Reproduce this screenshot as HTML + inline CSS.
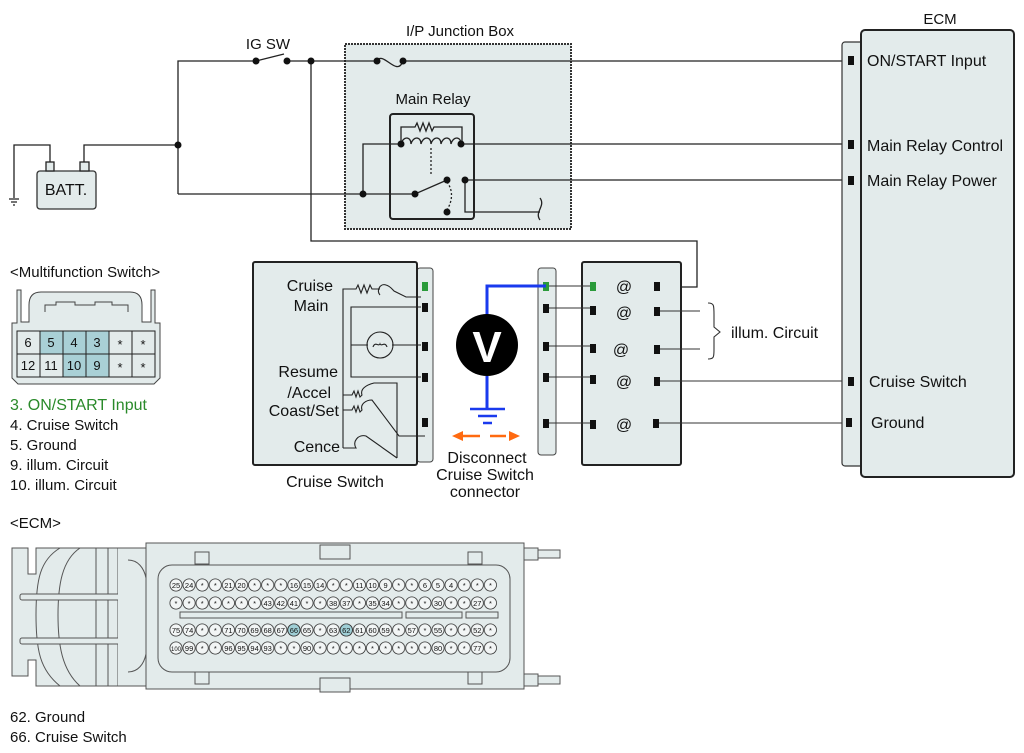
<!DOCTYPE html>
<html><head><meta charset="utf-8"><style>
html,body{margin:0;padding:0;background:#fff;}
svg{display:block;font-family:"Liberation Sans",Arial,sans-serif;}
</style></head><body>
<svg width="1024" height="753" viewBox="0 0 1024 753" xmlns="http://www.w3.org/2000/svg">
<defs>
<pattern id="p1" patternUnits="userSpaceOnUse" x="169.45" y="576" width="13.1" height="18"><circle cx="6.55" cy="9" r="6.1" fill="#f2f5f5" stroke="#333" stroke-width="0.8"/></pattern>
<pattern id="p2" patternUnits="userSpaceOnUse" x="169.45" y="621" width="13.1" height="18"><circle cx="6.55" cy="9" r="6.1" fill="#f2f5f5" stroke="#333" stroke-width="0.8"/></pattern>
</defs>
<!-- junction box -->
<rect x="345" y="44" width="226" height="185" fill="#e3ebeb" stroke="#333" stroke-dasharray="2 1" stroke-width="2"/>
<g fill="none" stroke="#222" stroke-width="1.3">
<!-- battery -->
<rect x="37" y="171" width="59" height="38" rx="3" fill="#e3ebeb" stroke="#333"/>
<rect x="46" y="162" width="8" height="9" fill="#e3ebeb"/>
<rect x="80" y="162" width="9" height="9" fill="#e3ebeb"/>
<path d="M50 162V145H14V198M84 162V145H178"/>
<path d="M9 199h10M11 202h6M13 205h2"/>
<path d="M178 194V61H256M287 61H377M403 61H842"/>
<path d="M256 61L284 54"/>
<path d="M311 61V241H697V287H657"/>
<path d="M377 61C383 50 397 78 403 61"/>
<rect x="390" y="114" width="84" height="105" rx="3" stroke-width="2"/>
<path d="M401 144V127H415l2-4 3 8 3-8 3 8 3-8 3 8 2-4H462V144"/>
<path d="M401 144c2-8 10-8 10 0c2-8 10-8 10 0c2-8 10-8 10 0c2-8 10-8 10 0c2-8 10-8 10 0c2-8 10-8 10 0"/>
<path d="M461 144H842M401 144H363V194"/>
<path d="M178 194H415L447 180"/>
<path d="M465 180H842M465 180V212H540"/>
<path d="M540 198c6 8 -6 14 0 22"/>
<path d="M431 148V176M447 182c6 8 6 18 0 28" stroke-dasharray="2 2"/>
</g>
<g fill="#111">
<circle cx="178" cy="145" r="3.5"/><circle cx="256" cy="61" r="3.5"/><circle cx="287" cy="61" r="3.5"/><circle cx="311" cy="61" r="3.5"/>
<circle cx="377" cy="61" r="3.5"/><circle cx="403" cy="61" r="3.5"/>
<circle cx="401" cy="144" r="3.5"/><circle cx="461" cy="144" r="3.5"/><circle cx="363" cy="194" r="3.5"/>
<circle cx="415" cy="194" r="3.5"/><circle cx="447" cy="180" r="3.5"/><circle cx="465" cy="180" r="3.5"/><circle cx="447" cy="212" r="3.5"/>
</g>
<!-- ECM -->
<rect x="842" y="42" width="22" height="424" rx="3" fill="#e3ebeb" stroke="#333" stroke-width="1.2"/>
<rect x="861" y="30" width="153" height="447" rx="4" fill="#e3ebeb" stroke="#222" stroke-width="2"/>
<g fill="#111"><rect x="848" y="56" width="6" height="9"/><rect x="848" y="140" width="6" height="9"/><rect x="848" y="176" width="6" height="9"/><rect x="848" y="377" width="6" height="9"/><rect x="846" y="418" width="6" height="9"/></g>
<!-- cruise switch -->
<rect x="417" y="268" width="16" height="194" rx="3" fill="#e3ebeb" stroke="#444"/>
<rect x="253" y="262" width="164" height="203" rx="2" fill="#e3ebeb" stroke="#222" stroke-width="2"/>
<g fill="#111"><rect x="422" y="282" width="6" height="9" fill="#2a9a3a"/><rect x="422" y="303" width="6" height="9"/><rect x="422" y="342" width="6" height="9"/><rect x="422" y="373" width="6" height="9"/><rect x="422" y="418" width="6" height="9"/></g>
<g fill="none" stroke="#222" stroke-width="1.1">
<path d="M343 448V289H356l2-4 3 8 3-8 3 8 3-8 2 4H380"/>
<path d="M380 295c-4-4 0-12 6-10c4 1 6 4 8 6l12 6H421"/>
<path d="M421 307H351V377H421M351 345H368M392 345H421"/>
<circle cx="380" cy="345" r="13"/><path d="M373 347c2-6 6 0 7-3c1 3 5-3 7 3"/>
<path d="M343 395H352l2-4 2 6 2-6 2 6 2-2c-2-6 4-10 12-12H397V458M343 410H352l2-4 2 6 2-6 2 6 2-2c-2-6 4-10 10-10l27 36H425"/>
<path d="M343 448H356c-4-6 2-14 10-12l31 22"/>
</g>
<!-- middle connector -->
<rect x="538" y="268" width="18" height="187" rx="3" fill="#e3ebeb" stroke="#444"/>
<rect x="582" y="262" width="99" height="203" rx="2" fill="#e3ebeb" stroke="#222" stroke-width="2"/>
<g stroke="#333" stroke-width="1.1" fill="none">
<path d="M546 286H593M546 308H593M546 346H593M546 377H593M546 423H593"/>
<path d="M657 311H700M657 349H700M657 381H842M657 423H842"/>
<path d="M708 303c6 0 6 2 6 12v12l6 5-6 5v12c0 8 0 10-6 10"/>
</g>
<g fill="#111">
<rect x="543" y="282" width="6" height="9" fill="#2a9a3a"/><rect x="543" y="304" width="6" height="9"/><rect x="543" y="342" width="6" height="9"/><rect x="543" y="373" width="6" height="9"/><rect x="543" y="419" width="6" height="9"/>
<rect x="590" y="282" width="6" height="9" fill="#2a9a3a"/><rect x="590" y="306" width="6" height="9"/><rect x="590" y="344" width="6" height="9"/><rect x="590" y="375" width="6" height="9"/><rect x="590" y="420" width="6" height="9"/>
<rect x="654" y="282" width="6" height="9"/><rect x="654" y="307" width="6" height="9"/><rect x="654" y="345" width="6" height="9"/><rect x="654" y="377" width="6" height="9"/><rect x="653" y="419" width="6" height="9"/>
</g>
<g font-size="16" fill="#111" text-anchor="middle">
<text x="624" y="292">@</text><text x="624" y="318">@</text><text x="621" y="355">@</text><text x="624" y="387">@</text><text x="624" y="430">@</text>
</g>
<!-- voltmeter -->
<path d="M546 286H487V330M487 376V409" stroke="#1a3aee" stroke-width="3" fill="none"/>
<path d="M470 409H505M478 416H497M483 423H492" stroke="#1a3aee" stroke-width="2.5"/>
<circle cx="487" cy="345" r="31" fill="#000"/>
<text x="487" y="362" font-size="44" font-weight="bold" fill="#fff" text-anchor="middle">V</text>
<g fill="#ff6a10" stroke="#ff6a10" stroke-width="2.5"><path d="M462 436H480M506 436H490"/><path d="M452 436l11-5v10z" stroke="none"/><path d="M520 436l-11-5v10z" stroke="none"/></g>
<!-- texts -->
<g font-size="15" fill="#111">
<text x="268" y="49" text-anchor="middle">IG SW</text>
<text x="460" y="36" text-anchor="middle">I/P Junction Box</text>
<text x="433" y="104" text-anchor="middle">Main Relay</text>
<text x="66" y="195" text-anchor="middle" font-size="16">BATT.</text>
<text x="940" y="24" text-anchor="middle">ECM</text>
<text x="867" y="66" font-size="16">ON/START Input</text>
<text x="867" y="151" font-size="16">Main Relay Control</text>
<text x="867" y="186" font-size="16">Main Relay Power</text>
<text x="869" y="387" font-size="16">Cruise Switch</text>
<text x="871" y="428" font-size="16">Ground</text>
<text x="731" y="338" font-size="16">illum. Circuit</text>
<text x="333" y="291" text-anchor="end" font-size="16">Cruise</text>
<text x="311" y="311" text-anchor="middle" font-size="16">Main</text>
<text x="338" y="377" text-anchor="end" font-size="16">Resume</text>
<text x="331" y="398" text-anchor="end" font-size="16">/Accel</text>
<text x="339" y="416" text-anchor="end" font-size="16">Coast/Set</text>
<text x="340" y="452" text-anchor="end" font-size="16">Cence</text>
<text x="335" y="487" text-anchor="middle" font-size="16">Cruise Switch</text>
<text x="487" y="463" text-anchor="middle" font-size="16">Disconnect</text>
<text x="485" y="480" text-anchor="middle" font-size="16">Cruise Switch</text>
<text x="485" y="497" text-anchor="middle" font-size="16">connector</text>
<text x="10" y="277">&lt;Multifunction Switch&gt;</text>
<text x="10" y="410" fill="#2a8a2a" font-size="16">3. ON/START Input</text>
<text x="10" y="430">4. Cruise Switch</text>
<text x="10" y="450">5. Ground</text>
<text x="10" y="470">9. illum. Circuit</text>
<text x="10" y="490">10. illum. Circuit</text>
<text x="10" y="528">&lt;ECM&gt;</text>
<text x="10" y="722">62. Ground</text>
<text x="10" y="742">66. Cruise Switch</text>
</g>
<!-- multifunction connector -->
<path d="M17 290V323H12V378l6 6H154l6-6V323H155V290H151V322H142V305c0-10-5-13-12-13H41c-8 0-12 4-12 13V322H21V290Z" fill="#e3ebeb" stroke="#444"/>
<path d="M45 312V305H56V302H75V305H95V302H112V305H128V312" fill="none" stroke="#444"/>
<g stroke="#222" stroke-width="1">
<rect x="17" y="331" width="138" height="46" fill="#e3ebeb"/>
<rect x="40" y="331" width="69" height="23" fill="#a9d0d6"/>
<rect x="63" y="354" width="46" height="23" fill="#a9d0d6"/>
<path d="M17 354H155M40 331V377M63 331V377M86 331V377M109 331V377M132 331V377" fill="none"/>
</g>
<g font-size="13" fill="#111" text-anchor="middle">
<text x="28" y="347">6</text><text x="51" y="347">5</text><text x="74" y="347">4</text><text x="97" y="347">3</text><text x="120" y="349">*</text><text x="143" y="349">*</text>
<text x="28" y="370">12</text><text x="51" y="370">11</text><text x="74" y="370">10</text><text x="97" y="370">9</text><text x="120" y="372">*</text><text x="143" y="372">*</text>
</g>
<!-- ECM connector -->
<g fill="#e3ebeb" stroke="#555" stroke-width="1">
<path d="M28 548H12V676H28V660H36V686H118V548H36V574H28Z"/>
<path d="M60 548C40 560 36 580 36 615C36 650 40 670 60 686M80 548C62 560 58 585 58 615C58 645 62 670 80 686M96 548V686M108 548V686" fill="none"/>
<rect x="20" y="594" width="120" height="6" rx="2"/><rect x="20" y="638" width="120" height="6" rx="2"/>
<path d="M118 548H146V686H118" />
<path d="M128 560c10 0 16 8 18 18M128 672c10 0 16-8 18-18" fill="none"/>
<rect x="146" y="543" width="378" height="146"/>
<rect x="158" y="565" width="352" height="107" rx="14"/>
<rect x="524" y="548" width="14" height="12"/><rect x="538" y="550" width="22" height="8"/>
<rect x="524" y="674" width="14" height="12"/><rect x="538" y="676" width="22" height="8"/>
<rect x="320" y="545" width="30" height="14"/><rect x="320" y="678" width="30" height="14"/>
<rect x="195" y="552" width="14" height="12"/><rect x="468" y="552" width="14" height="12"/>
<rect x="195" y="672" width="14" height="12"/><rect x="468" y="672" width="14" height="12"/>
<rect x="180" y="612" width="222" height="6"/><rect x="406" y="612" width="56" height="6"/><rect x="466" y="612" width="32" height="6"/>
</g>
<rect x="169.45" y="576" width="327.5" height="36" fill="url(#p1)"/>
<rect x="169.45" y="621" width="327.5" height="36" fill="url(#p2)"/>
<circle cx="293.9" cy="630" r="6.1" fill="#9fcfd6" stroke="#333" stroke-width="0.8"/>
<circle cx="346.3" cy="630" r="6.1" fill="#9fcfd6" stroke="#333" stroke-width="0.8"/>
<g font-size="7.5" text-anchor="middle" fill="#111">
<text y="588"><tspan x="176">25</tspan><tspan x="189.1">24</tspan><tspan x="202.2">*</tspan><tspan x="215.3">*</tspan><tspan x="228.4">21</tspan><tspan x="241.5">20</tspan><tspan x="254.6">*</tspan><tspan x="267.7">*</tspan><tspan x="280.8">*</tspan><tspan x="293.9">16</tspan><tspan x="307">15</tspan><tspan x="320.1">14</tspan><tspan x="333.2">*</tspan><tspan x="346.3">*</tspan><tspan x="359.4">11</tspan><tspan x="372.5">10</tspan><tspan x="385.6">9</tspan><tspan x="398.7">*</tspan><tspan x="411.8">*</tspan><tspan x="424.9">6</tspan><tspan x="438">5</tspan><tspan x="451.1">4</tspan><tspan x="464.2">*</tspan><tspan x="477.3">*</tspan><tspan x="490.4">*</tspan></text>
<text y="606"><tspan x="176">*</tspan><tspan x="189.1">*</tspan><tspan x="202.2">*</tspan><tspan x="215.3">*</tspan><tspan x="228.4">*</tspan><tspan x="241.5">*</tspan><tspan x="254.6">*</tspan><tspan x="267.7">43</tspan><tspan x="280.8">42</tspan><tspan x="293.9">41</tspan><tspan x="307">*</tspan><tspan x="320.1">*</tspan><tspan x="333.2">38</tspan><tspan x="346.3">37</tspan><tspan x="359.4">*</tspan><tspan x="372.5">35</tspan><tspan x="385.6">34</tspan><tspan x="398.7">*</tspan><tspan x="411.8">*</tspan><tspan x="424.9">*</tspan><tspan x="438">30</tspan><tspan x="451.1">*</tspan><tspan x="464.2">*</tspan><tspan x="477.3">27</tspan><tspan x="490.4">*</tspan></text>
<text y="633"><tspan x="176">75</tspan><tspan x="189.1">74</tspan><tspan x="202.2">*</tspan><tspan x="215.3">*</tspan><tspan x="228.4">71</tspan><tspan x="241.5">70</tspan><tspan x="254.6">69</tspan><tspan x="267.7">68</tspan><tspan x="280.8">67</tspan><tspan x="293.9">66</tspan><tspan x="307">65</tspan><tspan x="320.1">*</tspan><tspan x="333.2">63</tspan><tspan x="346.3">62</tspan><tspan x="359.4">61</tspan><tspan x="372.5">60</tspan><tspan x="385.6">59</tspan><tspan x="398.7">*</tspan><tspan x="411.8">57</tspan><tspan x="424.9">*</tspan><tspan x="438">55</tspan><tspan x="451.1">*</tspan><tspan x="464.2">*</tspan><tspan x="477.3">52</tspan><tspan x="490.4">*</tspan></text>
<text y="651"><tspan x="176" font-size="6">100</tspan><tspan x="189.1">99</tspan><tspan x="202.2">*</tspan><tspan x="215.3">*</tspan><tspan x="228.4">96</tspan><tspan x="241.5">95</tspan><tspan x="254.6">94</tspan><tspan x="267.7">93</tspan><tspan x="280.8">*</tspan><tspan x="293.9">*</tspan><tspan x="307">90</tspan><tspan x="320.1">*</tspan><tspan x="333.2">*</tspan><tspan x="346.3">*</tspan><tspan x="359.4">*</tspan><tspan x="372.5">*</tspan><tspan x="385.6">*</tspan><tspan x="398.7">*</tspan><tspan x="411.8">*</tspan><tspan x="424.9">*</tspan><tspan x="438">80</tspan><tspan x="451.1">*</tspan><tspan x="464.2">*</tspan><tspan x="477.3">77</tspan><tspan x="490.4">*</tspan></text>
</g>
</svg>
</body></html>
